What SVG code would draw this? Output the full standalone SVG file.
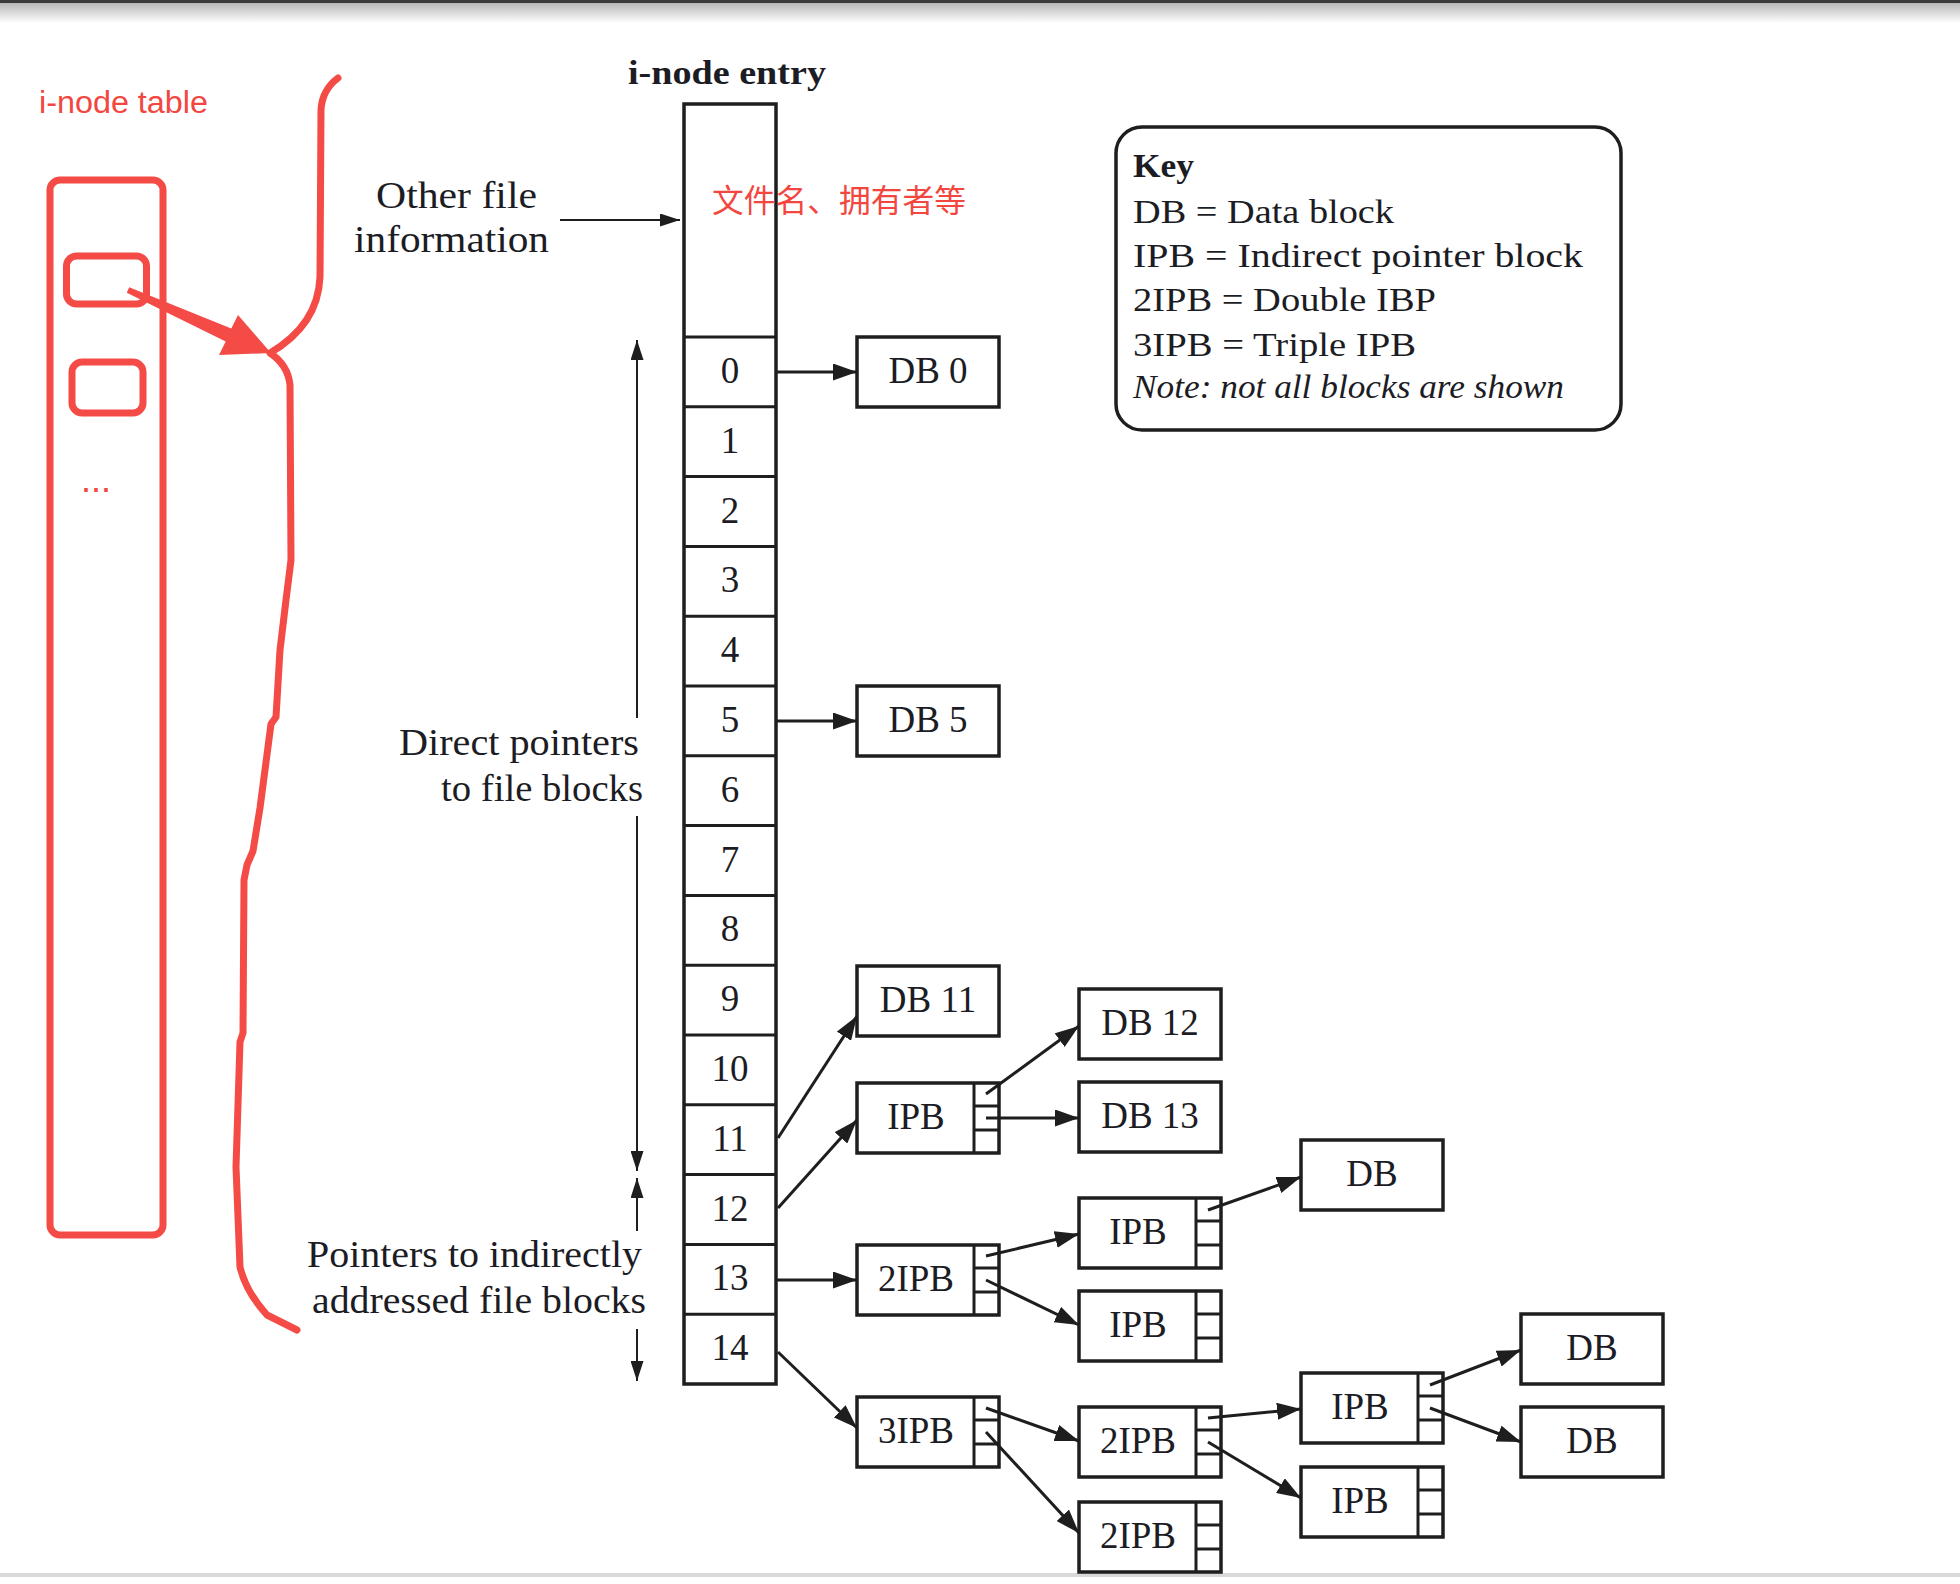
<svg xmlns="http://www.w3.org/2000/svg" width="1960" height="1584" viewBox="0 0 1960 1584">
<defs>
<linearGradient id="topShade" x1="0" y1="0" x2="0" y2="1">
<stop offset="0" stop-color="#b8b8b8"/>
<stop offset="1" stop-color="#ffffff"/>
</linearGradient>
<marker id="ah" markerWidth="24" markerHeight="17" refX="24" refY="8.5" orient="auto" markerUnits="userSpaceOnUse">
<path d="M0,0 L24,8.5 L0,17 z" fill="#1e1e1e"/>
</marker>
<marker id="ahs" markerWidth="20" markerHeight="13" refX="20" refY="6.5" orient="auto" markerUnits="userSpaceOnUse">
<path d="M0,0 L20,6.5 L0,13 z" fill="#1e1e1e"/>
</marker>
</defs>
<style>
.blk{fill:#ffffff;stroke:#1e1e1e;stroke-width:3.5}
.sl{stroke:#1e1e1e;stroke-width:3}
.t{font-family:"Liberation Serif","Times New Roman",serif;font-size:37px;fill:#1c1c24}
.bl{font-family:"Liberation Serif","Times New Roman",serif;font-size:37px;fill:#1c1c24;text-anchor:middle}
.num{font-family:"Liberation Serif","Times New Roman",serif;font-size:37px;fill:#1c1c24;text-anchor:middle}
.key{font-family:"Liberation Serif","Times New Roman",serif;font-size:34px;fill:#1c1c24}
.con{stroke:#1e1e1e;stroke-width:3;fill:none;marker-end:url(#ah)}
.thin{stroke:#1e1e1e;stroke-width:2;fill:none;marker-end:url(#ahs)}
.red{fill:none;stroke:#f44b46;stroke-width:7;stroke-linecap:round;stroke-linejoin:round}
.redtxt{fill:#f2463f}
</style>
<rect x="0" y="0" width="1960" height="1584" fill="#ffffff"/>
<rect x="0" y="3" width="1960" height="20" fill="url(#topShade)"/>
<rect x="0" y="0" width="1960" height="3" fill="#3c3c3c"/>
<rect x="0" y="1573" width="1960" height="4" fill="#d9d9d9"/>

<!-- red annotations -->
<g id="annotations">
<text class="redtxt" x="39" y="113" font-family="Liberation Sans, Arial, sans-serif" font-size="31" textLength="169" lengthAdjust="spacingAndGlyphs">i-node table</text>
<g id="inode-table">
<rect class="red" x="50" y="180" width="113" height="1055" rx="10"/>
<rect class="red" x="66.5" y="256" width="80" height="48" rx="10"/>
<rect class="red" x="72" y="362" width="71" height="51" rx="10"/>
<text class="redtxt" x="81" y="492" font-family="Liberation Sans, Arial, sans-serif" font-size="36">...</text>
</g>
<polygon id="red-arrow" fill="#f44b46" points="129.2,287.3 231.3,328.6 238,315 271,353 219,355 225.7,341.4 126.8,292.7"/>
<path id="red-brace" class="red" d="M338,78 Q322,90 321,110 L320,277 Q318,325 270,353 Q288,365 290,385 L291,560 L286,600 L280,650 L276,717 L271,724 L260,808 L253,851 L247,865 L244,880 L243,1033 L240,1042 L236,1167 L240,1267 Q246,1292 267,1315 L297,1330"/>
</g>

<!-- i-node entry -->
<g id="inode-entry">
<text x="628" y="84" font-family="Liberation Serif, Times New Roman, serif" font-size="34" font-weight="bold" fill="#1c1c24" textLength="198" lengthAdjust="spacingAndGlyphs">i-node entry</text>
<rect class="blk" x="684" y="104" width="92" height="1280" stroke-width="4"/>
<line class="sl" x1="684" y1="337" x2="776" y2="337" stroke-width="3.5"/>
<line class="sl" x1="684" y1="406.8" x2="776" y2="406.8" stroke-width="3.5"/>
<line class="sl" x1="684" y1="476.6" x2="776" y2="476.6" stroke-width="3.5"/>
<line class="sl" x1="684" y1="546.4" x2="776" y2="546.4" stroke-width="3.5"/>
<line class="sl" x1="684" y1="616.2" x2="776" y2="616.2" stroke-width="3.5"/>
<line class="sl" x1="684" y1="686" x2="776" y2="686" stroke-width="3.5"/>
<line class="sl" x1="684" y1="755.8" x2="776" y2="755.8" stroke-width="3.5"/>
<line class="sl" x1="684" y1="825.6" x2="776" y2="825.6" stroke-width="3.5"/>
<line class="sl" x1="684" y1="895.4" x2="776" y2="895.4" stroke-width="3.5"/>
<line class="sl" x1="684" y1="965.2" x2="776" y2="965.2" stroke-width="3.5"/>
<line class="sl" x1="684" y1="1035" x2="776" y2="1035" stroke-width="3.5"/>
<line class="sl" x1="684" y1="1104.8" x2="776" y2="1104.8" stroke-width="3.5"/>
<line class="sl" x1="684" y1="1174.6" x2="776" y2="1174.6" stroke-width="3.5"/>
<line class="sl" x1="684" y1="1244.4" x2="776" y2="1244.4" stroke-width="3.5"/>
<line class="sl" x1="684" y1="1314.2" x2="776" y2="1314.2" stroke-width="3.5"/>
<text class="num" x="730" y="383">0</text>
<text class="num" x="730" y="453">1</text>
<text class="num" x="730" y="523">2</text>
<text class="num" x="730" y="592">3</text>
<text class="num" x="730" y="662">4</text>
<text class="num" x="730" y="732">5</text>
<text class="num" x="730" y="802">6</text>
<text class="num" x="730" y="872">7</text>
<text class="num" x="730" y="941">8</text>
<text class="num" x="730" y="1011">9</text>
<text class="num" x="730" y="1081">10</text>
<text class="num" x="730" y="1151">11</text>
<text class="num" x="730" y="1221">12</text>
<text class="num" x="730" y="1290">13</text>
<text class="num" x="730" y="1360">14</text>
</g>
<text id="red-note" class="redtxt" x="712" y="212" font-family="Noto Sans CJK SC, sans-serif" font-size="31.5" textLength="254" lengthAdjust="spacingAndGlyphs">文件名、拥有者等</text>

<!-- side labels -->
<g id="labels">
<text class="t" x="376" y="208" textLength="161" lengthAdjust="spacingAndGlyphs">Other file</text>
<text class="t" x="354" y="252" textLength="195" lengthAdjust="spacingAndGlyphs">information</text>
<text class="t" x="399" y="755" textLength="240" lengthAdjust="spacingAndGlyphs">Direct pointers</text>
<text class="t" x="441" y="801" textLength="202" lengthAdjust="spacingAndGlyphs">to file blocks</text>
<text class="t" x="307" y="1267" textLength="335" lengthAdjust="spacingAndGlyphs">Pointers to indirectly</text>
<text class="t" x="312" y="1313" textLength="334" lengthAdjust="spacingAndGlyphs">addressed file blocks</text>
</g>

<!-- key -->
<g id="key">
<rect x="1116" y="127" width="505" height="303" rx="26" fill="none" stroke="#1e1e1e" stroke-width="3.5"/>
<text class="key" x="1133" y="177" font-weight="bold" textLength="61" lengthAdjust="spacingAndGlyphs">Key</text>
<text class="key" x="1133" y="223" textLength="261" lengthAdjust="spacingAndGlyphs">DB = Data block</text>
<text class="key" x="1133" y="267" textLength="450" lengthAdjust="spacingAndGlyphs">IPB = Indirect pointer block</text>
<text class="key" x="1133" y="311" textLength="303" lengthAdjust="spacingAndGlyphs">2IPB = Double IBP</text>
<text class="key" x="1133" y="356" textLength="283" lengthAdjust="spacingAndGlyphs">3IPB = Triple IPB</text>
<text class="key" x="1133" y="398" font-style="italic" textLength="431" lengthAdjust="spacingAndGlyphs">Note: not all blocks are shown</text>
</g>

<!-- blocks -->
<g id="db0"><rect class="blk" x="857" y="337" width="142" height="70"/><text class="bl" x="928" y="383">DB 0</text></g>
<g id="db5"><rect class="blk" x="857" y="686" width="142" height="70"/><text class="bl" x="928" y="732">DB 5</text></g>
<g id="db11"><rect class="blk" x="857" y="966" width="142" height="70"/><text class="bl" x="928" y="1012">DB 11</text></g>
<g id="ipb"><rect class="blk" x="857" y="1083" width="142" height="70"/><line class="sl" x1="974" y1="1083" x2="974" y2="1153"/><line class="sl" x1="974" y1="1106" x2="999" y2="1106"/><line class="sl" x1="974" y1="1130" x2="999" y2="1130"/><text class="bl" x="916" y="1129">IPB</text></g>
<g id="ipb2"><rect class="blk" x="857" y="1245" width="142" height="70"/><line class="sl" x1="974" y1="1245" x2="974" y2="1315"/><line class="sl" x1="974" y1="1268" x2="999" y2="1268"/><line class="sl" x1="974" y1="1292" x2="999" y2="1292"/><text class="bl" x="916" y="1291">2IPB</text></g>
<g id="ipb3"><rect class="blk" x="857" y="1397" width="142" height="70"/><line class="sl" x1="974" y1="1397" x2="974" y2="1467"/><line class="sl" x1="974" y1="1420" x2="999" y2="1420"/><line class="sl" x1="974" y1="1444" x2="999" y2="1444"/><text class="bl" x="916" y="1443">3IPB</text></g>
<g id="db12"><rect class="blk" x="1079" y="989" width="142" height="70"/><text class="bl" x="1150" y="1035">DB 12</text></g>
<g id="db13"><rect class="blk" x="1079" y="1082" width="142" height="70"/><text class="bl" x="1150" y="1128">DB 13</text></g>
<g id="ipb-b1"><rect class="blk" x="1079" y="1198" width="142" height="70"/><line class="sl" x1="1196" y1="1198" x2="1196" y2="1268"/><line class="sl" x1="1196" y1="1221" x2="1221" y2="1221"/><line class="sl" x1="1196" y1="1245" x2="1221" y2="1245"/><text class="bl" x="1138" y="1244">IPB</text></g>
<g id="ipb-b2"><rect class="blk" x="1079" y="1291" width="142" height="70"/><line class="sl" x1="1196" y1="1291" x2="1196" y2="1361"/><line class="sl" x1="1196" y1="1314" x2="1221" y2="1314"/><line class="sl" x1="1196" y1="1338" x2="1221" y2="1338"/><text class="bl" x="1138" y="1337">IPB</text></g>
<g id="ipb2-b1"><rect class="blk" x="1079" y="1407" width="142" height="70"/><line class="sl" x1="1196" y1="1407" x2="1196" y2="1477"/><line class="sl" x1="1196" y1="1430" x2="1221" y2="1430"/><line class="sl" x1="1196" y1="1454" x2="1221" y2="1454"/><text class="bl" x="1138" y="1453">2IPB</text></g>
<g id="ipb2-b2"><rect class="blk" x="1079" y="1502" width="142" height="70"/><line class="sl" x1="1196" y1="1502" x2="1196" y2="1572"/><line class="sl" x1="1196" y1="1525" x2="1221" y2="1525"/><line class="sl" x1="1196" y1="1549" x2="1221" y2="1549"/><text class="bl" x="1138" y="1548">2IPB</text></g>
<g id="db-c1"><rect class="blk" x="1301" y="1140" width="142" height="70"/><text class="bl" x="1372" y="1186">DB</text></g>
<g id="ipb-c1"><rect class="blk" x="1301" y="1373" width="142" height="70"/><line class="sl" x1="1418" y1="1373" x2="1418" y2="1443"/><line class="sl" x1="1418" y1="1396" x2="1443" y2="1396"/><line class="sl" x1="1418" y1="1420" x2="1443" y2="1420"/><text class="bl" x="1360" y="1419">IPB</text></g>
<g id="ipb-c2"><rect class="blk" x="1301" y="1467" width="142" height="70"/><line class="sl" x1="1418" y1="1467" x2="1418" y2="1537"/><line class="sl" x1="1418" y1="1490" x2="1443" y2="1490"/><line class="sl" x1="1418" y1="1514" x2="1443" y2="1514"/><text class="bl" x="1360" y="1513">IPB</text></g>
<g id="db-d1"><rect class="blk" x="1521" y="1314" width="142" height="70"/><text class="bl" x="1592" y="1360">DB</text></g>
<g id="db-d2"><rect class="blk" x="1521" y="1407" width="142" height="70"/><text class="bl" x="1592" y="1453">DB</text></g>

<!-- connectors -->
<g id="connectors">
<line class="thin" x1="560" y1="220" x2="680" y2="220"/>
<line class="thin" x1="637" y1="718" x2="637" y2="340"/>
<line class="thin" x1="637" y1="816" x2="637" y2="1171"/>
<line class="thin" x1="637" y1="1231" x2="637" y2="1178"/>
<line class="thin" x1="637" y1="1329" x2="637" y2="1381"/>
<line class="con" x1="776" y1="372" x2="857" y2="372"/>
<line class="con" x1="776" y1="721" x2="857" y2="721"/>
<line class="con" x1="778" y1="1138" x2="857" y2="1016"/>
<line class="con" x1="778" y1="1208" x2="857" y2="1120"/>
<line class="con" x1="776" y1="1280" x2="857" y2="1280"/>
<line class="con" x1="778" y1="1352" x2="857" y2="1428"/>
<line class="con" x1="986" y1="1094" x2="1079" y2="1026"/>
<line class="con" x1="986" y1="1118" x2="1079" y2="1118"/>
<line class="con" x1="986" y1="1256" x2="1079" y2="1234"/>
<line class="con" x1="986" y1="1280" x2="1079" y2="1325"/>
<line class="con" x1="986" y1="1408" x2="1079" y2="1441"/>
<line class="con" x1="986" y1="1432" x2="1079" y2="1533"/>
<line class="con" x1="1208" y1="1210" x2="1301" y2="1177"/>
<line class="con" x1="1208" y1="1418" x2="1301" y2="1409"/>
<line class="con" x1="1208" y1="1442" x2="1301" y2="1498"/>
<line class="con" x1="1430" y1="1385" x2="1521" y2="1350"/>
<line class="con" x1="1430" y1="1408" x2="1521" y2="1442"/>
</g>
</svg>
